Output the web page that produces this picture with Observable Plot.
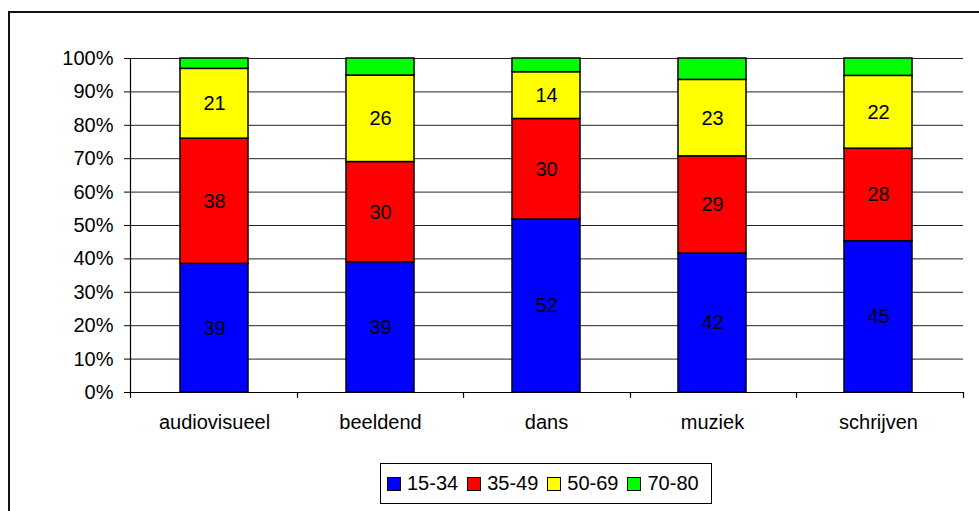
<!DOCTYPE html>
<html><head><meta charset="utf-8">
<script src="https://cdn.jsdelivr.net/npm/d3@7"></script>
<script src="https://cdn.jsdelivr.net/npm/@observablehq/plot@0.6"></script>
<style>
body{margin:0;background:#fff;font-family:"Liberation Sans",Arial,sans-serif;}
#wrap{position:relative;width:979px;height:511px;overflow:hidden;background:#fff;}
#frame{position:absolute;left:8px;top:11px;width:1100px;height:600px;border:2px solid #111;}
#chart{position:absolute;left:0;top:0;}
#legend{position:absolute;left:380px;top:463px;width:332px;height:41px;border:1px solid #000;box-sizing:border-box;display:flex;align-items:center;padding-left:6px;font-size:20px;background:#fff;}
.item{display:flex;align-items:center;margin-right:9px;}
.sw{width:12px;height:12px;border:1.5px solid #000;margin-right:6px;}
</style>
</head><body>
<div id="wrap"><div id="frame"></div><div id="chart"></div><div id="legend"></div></div>
<script>
const categories = ["audiovisueel","beeldend","dans","muziek","schrijven"];
const groups = ["15-34","35-49","50-69","70-80"];
const colors = ["#0000ff","#ff0000","#ffff00","#00ff00"];
const v1534 = [38.5, 39.0, 51.8, 41.6, 45.3];
const v3549 = [37.5, 30.0, 30.1, 29.1, 27.7];
const v5069 = [20.9, 25.9, 14.0, 22.9, 21.8];
const v7080 = [3.1, 5.1, 4.1, 6.4, 5.2];
const yTicks = [0,10,20,30,40,50,60,70,80,90,100];

const series = [v1534, v3549, v5069, v7080];
const data = [];
groups.forEach((g, gi) => categories.forEach((c, ci) => data.push({cat: c, group: g, value: series[gi][ci]})));

const FONT = '"Liberation Sans", Arial, sans-serif';

const axisLines = (index, scales, values, dims) => {
  const {marginLeft: l, marginRight: r, marginTop: t, marginBottom: b, width, height} = dims;
  const x0 = l, x1 = width - r, y0 = height - b;
  const g = d3.create("svg:g").attr("stroke", "#000").attr("stroke-width", 1.2);
  g.append("line").attr("x1", x0 + 0.5).attr("x2", x0 + 0.5).attr("y1", t).attr("y2", y0);
  g.append("line").attr("x1", x0).attr("x2", x1).attr("y1", y0 + 0.5).attr("y2", y0 + 0.5);
  const n = categories.length;
  for (let i = 0; i <= n; i++) {
    const x = Math.round(x0 + i * (x1 - x0) / n) + 0.5;
    g.append("line").attr("x1", x).attr("x2", x).attr("y1", y0).attr("y2", y0 + 6);
  }
  return g.node();
};

const chart = Plot.plot({
  width: 979, height: 511,
  marginLeft: 130, marginRight: 16, marginTop: 58, marginBottom: 119,
  style: {fontFamily: FONT, fontSize: "20px", color: "#000", background: "transparent"},
  x: {domain: categories, paddingInner: 0.59, paddingOuter: 0.295, label: null},
  y: {domain: [0, 100], label: null},
  color: {domain: groups, range: colors},
  marks: [
    Plot.gridY(yTicks, {stroke: "#222", strokeOpacity: 1}),
    Plot.barY(data, {x: "cat", y: "value", z: "group", fill: "group", stroke: "#000", strokeWidth: 1.5}),
    Plot.text(data.filter(d => d.group !== "70-80"), Plot.stackY({x: "cat", y: "value", z: "group", text: d => Math.round(d.value), fill: "#000", fontSize: 20})),
    Plot.axisY(yTicks, {tickFormat: d => d + "%", tickSize: 6, tickPadding: 11, fontSize: 20, stroke: "#000"}),
    Plot.axisX({tickSize: 0, tickPadding: 22, fontSize: 20}),
    axisLines
  ]
});
document.getElementById("chart").appendChild(chart);

const legend = d3.select("#legend");
groups.forEach((g, i) => {
  const it = legend.append("div").attr("class", "item");
  it.append("div").attr("class", "sw").style("background", colors[i]);
  it.append("span").text(g);
});
</script>
</body></html>
